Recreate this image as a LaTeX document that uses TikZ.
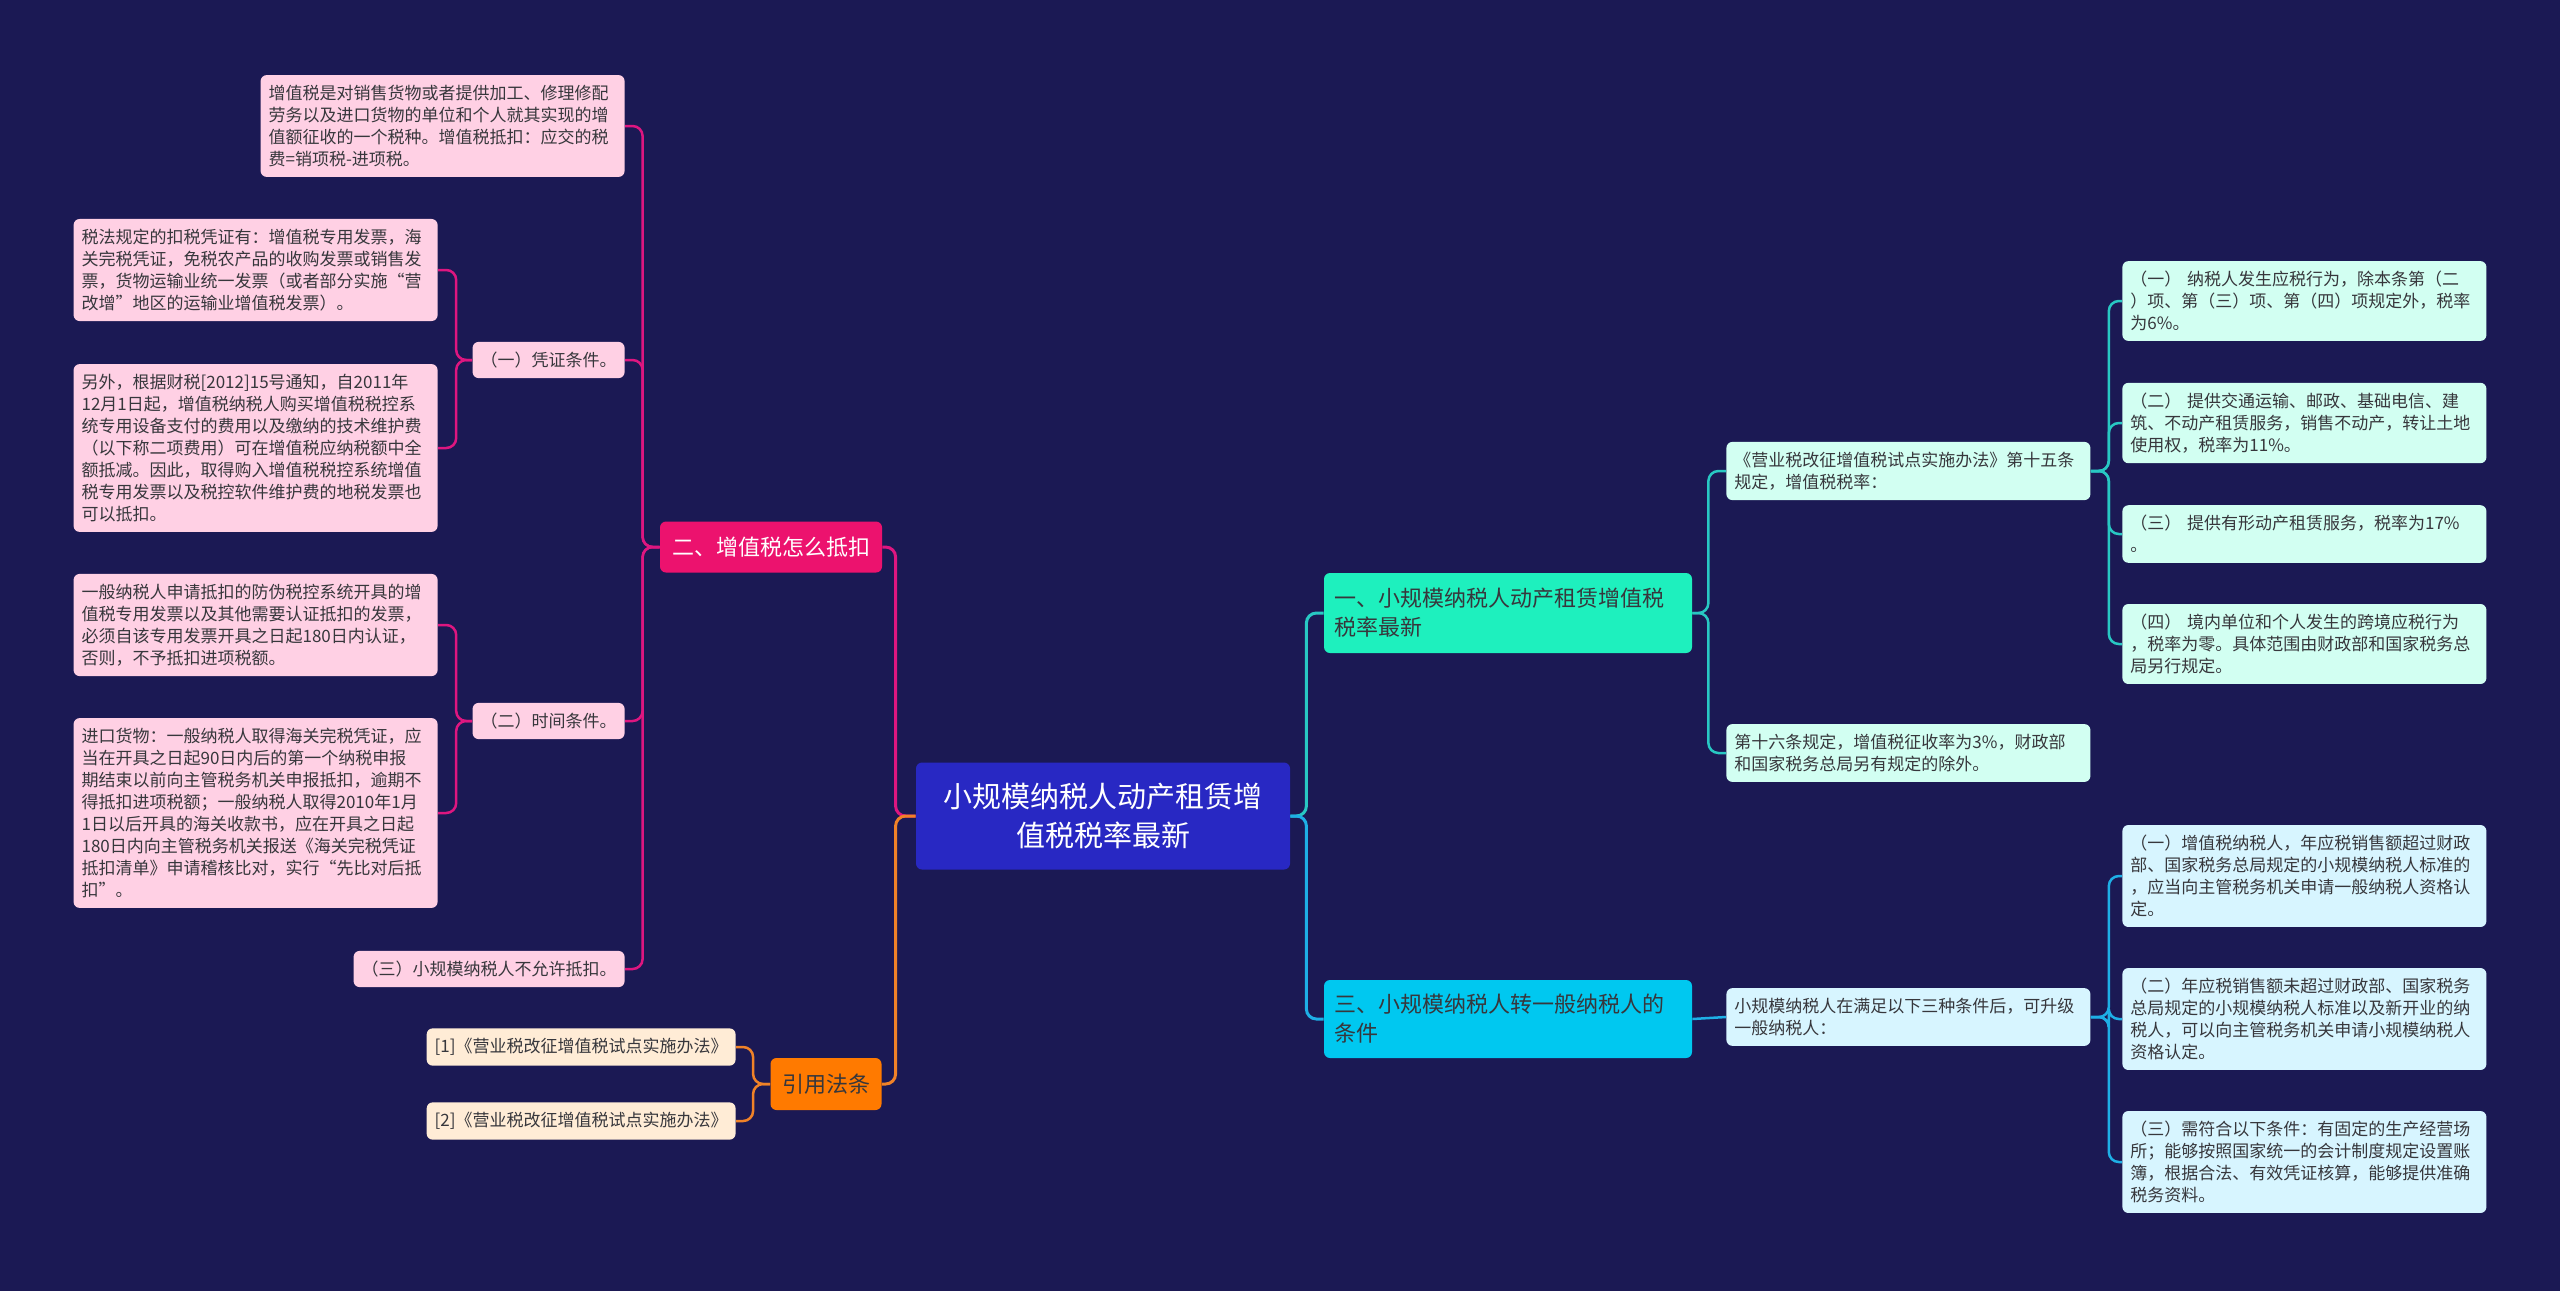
\documentclass[tikz,border=0pt]{standalone}
\usepackage{fontspec}
\setmainfont{Noto Sans CJK SC}
\usetikzlibrary{positioning}

\definecolor{bgnavy}{RGB}{27,25,84}
\definecolor{rootblue}{RGB}{40,40,195}
\definecolor{darktext}{RGB}{55,55,60}
\definecolor{pinkhead}{RGB}{236,18,110}
\definecolor{pinkleaf}{RGB}{255,208,228}
\definecolor{pinkline}{RGB}{222,22,128}
\definecolor{orangehead}{RGB}{255,122,0}
\definecolor{orangeleaf}{RGB}{255,236,214}
\definecolor{orangeline}{RGB}{240,130,40}
\definecolor{minthead}{RGB}{30,240,190}
\definecolor{mintleaf}{RGB}{210,255,242}
\definecolor{mintline}{RGB}{40,200,195}
\definecolor{cyanhead}{RGB}{0,200,240}
\definecolor{cyanleaf}{RGB}{215,245,255}
\definecolor{cyanline}{RGB}{30,175,230}

\tikzset{
  box/.style={rectangle, rounded corners=3pt, inner xsep=4pt, inner ysep=5pt, align=left,
    text=darktext, font=\fontsize{8.5}{11}\selectfont},
  pinkbox/.style={box, fill=pinkleaf},
  orangebox/.style={box, fill=orangeleaf},
  mintbox/.style={box, fill=mintleaf, text width=174pt},
  cyanbox/.style={box, fill=cyanleaf, text width=174pt},
  headbox/.style={rectangle, rounded corners=3pt, inner xsep=5pt, align=left,
    font=\fontsize{11}{14.5}\selectfont},
  link/.style={line width=1.25pt, rounded corners=5pt},
  mainlink/.style={line width=1.5pt, rounded corners=5pt}
}

\begin{document}
\begin{tikzpicture}[x=0.5pt, y=-0.5pt]
    \useasboundingbox (0,0) rectangle (2560,1291);
    \fill[bgnavy] (0,0) rectangle (2560,1291);

    % Nodes
    \node [rectangle, rounded corners=3pt, fill=rootblue, text=white, align=center,
      minimum width=187pt, minimum height=53.5pt, font=\fontsize{14.5}{19.5}\selectfont]
      (root) at (1103,816) {小规模纳税人动产租赁增\\值税税率最新};

    \node [headbox, fill=minthead, text=darktext, minimum width=184pt, minimum height=40pt, text width=174pt]
      (rate) at (1508,613) {一、小规模纳税人动产租赁增值税\\税率最新};
    \node [headbox, fill=cyanhead, text=darktext, minimum width=184pt, minimum height=39pt, text width=174pt]
      (upgrade) at (1508,1019) {三、小规模纳税人转一般纳税人的\\条件};
    \node [headbox, fill=pinkhead, text=white, minimum width=111pt, minimum height=25.5pt, align=center]
      (deduct) at (771,547) {二、增值税怎么抵扣};
    \node [headbox, fill=orangehead, text=darktext, minimum width=55.5pt, minimum height=26pt, align=center]
      (refs) at (826,1084) {引用法条};

    % right side, rates
    \node [mintbox, anchor=west] (art15) at (1726,471) {《营业税改征增值税试点实施办法》第十五条\\规定，增值税税率：};
    \node [mintbox, anchor=west] (art16) at (1726,753) {第十六条规定，增值税征收率为3\%，财政部\\和国家税务总局另有规定的除外。};
    \node [mintbox, anchor=west] (rateone) at (2122,301) {（一） 纳税人发生应税行为，除本条第（二\\）项、第（三）项、第（四）项规定外，税率\\为6\%。};
    \node [mintbox, anchor=west] (ratetwo) at (2122,423) {（二） 提供交通运输、邮政、基础电信、建\\筑、不动产租赁服务，销售不动产，转让土地\\使用权，税率为11\%。};
    \node [mintbox, anchor=west] (ratethree) at (2122,534) {（三） 提供有形动产租赁服务，税率为17\%\\。};
    \node [mintbox, anchor=west] (ratefour) at (2122,644) {（四） 境内单位和个人发生的跨境应税行为\\，税率为零。具体范围由财政部和国家税务总\\局另行规定。};

    % right side, upgrade
    \node [cyanbox, anchor=west] (cond) at (1726,1017) {小规模纳税人在满足以下三种条件后，可升级\\一般纳税人：};
    \node [cyanbox, anchor=west] (condone) at (2122,876) {（一）增值税纳税人，年应税销售额超过财政\\部、国家税务总局规定的小规模纳税人标准的\\，应当向主管税务机关申请一般纳税人资格认\\定。};
    \node [cyanbox, anchor=west] (condtwo) at (2122,1019) {（二）年应税销售额未超过财政部、国家税务\\总局规定的小规模纳税人标准以及新开业的纳\\税人，可以向主管税务机关申请小规模纳税人\\资格认定。};
    \node [cyanbox, anchor=west] (condthree) at (2122,1162) {（三）需符合以下条件：有固定的生产经营场\\所；能够按照国家统一的会计制度规定设置账\\簿，根据合法、有效凭证核算，能够提供准确\\税务资料。};

    % left side, deduction
    \node [pinkbox, anchor=east, text width=174pt] (vatdef) at (625,126) {增值税是对销售货物或者提供加工、修理修配\\劳务以及进口货物的单位和个人就其实现的增\\值额征收的一个税种。增值税抵扣：应交的税\\费=销项税-进项税。};
    \node [pinkbox, anchor=east] (voucher) at (625,360) {（一）凭证条件。};
    \node [pinkbox, anchor=east] (timing) at (625,721) {（二）时间条件。};
    \node [pinkbox, anchor=east] (small) at (625,969) {（三）小规模纳税人不允许抵扣。};
    \node [pinkbox, anchor=east, text width=174pt] (vouchera) at (438,270) {税法规定的扣税凭证有：增值税专用发票，海\\关完税凭证，免税农产品的收购发票或销售发\\票，货物运输业统一发票（或者部分实施“营\\改增”地区的运输业增值税发票）。};
    \node [pinkbox, anchor=east, text width=174pt] (voucherb) at (438,448) {另外，根据财税[2012]15号通知，自2011年\\12月1日起，增值税纳税人购买增值税税控系\\统专用设备支付的费用以及缴纳的技术维护费\\（以下称二项费用）可在增值税应纳税额中全\\额抵减。因此，取得购入增值税税控系统增值\\税专用发票以及税控软件维护费的地税发票也\\可以抵扣。};
    \node [pinkbox, anchor=east, text width=174pt] (timinga) at (438,625) {一般纳税人申请抵扣的防伪税控系统开具的增\\值税专用发票以及其他需要认证抵扣的发票，\\必须自该专用发票开具之日起180日内认证，\\否则，不予抵扣进项税额。};
    \node [pinkbox, anchor=east, text width=174pt] (timingb) at (438,813) {进口货物：一般纳税人取得海关完税凭证，应\\当在开具之日起90日内后的第一个纳税申报\\期结束以前向主管税务机关申报抵扣，逾期不\\得抵扣进项税额；一般纳税人取得2010年1月\\1日以后开具的海关收款书，应在开具之日起\\180日内向主管税务机关报送《海关完税凭证\\抵扣清单》申请稽核比对，实行“先比对后抵\\扣”。};

    % left side, references
    \node [orangebox, anchor=east] (refone) at (736,1047) {[1]《营业税改征增值税试点实施办法》};
    \node [orangebox, anchor=east] (reftwo) at (736,1121) {[2]《营业税改征增值税试点实施办法》};

    % Edges
    \draw [mainlink, mintline] (root.east) -- ++(16,0) |- (rate.west);
    \draw [mainlink, cyanline] (root.east) -- ++(16,0) |- (upgrade.west);
    \draw [mainlink, pinkline] (root.west) -- ++(-20,0) |- (deduct.east);
    \draw [mainlink, orangeline] (root.west) -- ++(-20,0) |- (refs.east);

    \draw [link, mintline] (rate.east) -- ++(16,0) |- (art15.west);
    \draw [link, mintline] (rate.east) -- ++(16,0) |- (art16.west);
    \draw [link, mintline] (art15.east) -- ++(18,0) |- (rateone.west);
    \draw [link, mintline] (art15.east) -- ++(18,0) |- (ratetwo.west);
    \draw [link, mintline] (art15.east) -- ++(18,0) |- (ratethree.west);
    \draw [link, mintline] (art15.east) -- ++(18,0) |- (ratefour.west);

    \draw [link, cyanline] (upgrade.east) -- (cond.west);
    \draw [link, cyanline] (cond.east) -- ++(18,0) |- (condone.west);
    \draw [link, cyanline] (cond.east) -- ++(18,0) |- (condtwo.west);
    \draw [link, cyanline] (cond.east) -- ++(18,0) |- (condthree.west);

    \draw [link, pinkline] (deduct.west) -- ++(-17,0) |- (vatdef.east);
    \draw [link, pinkline] (deduct.west) -- ++(-17,0) |- (voucher.east);
    \draw [link, pinkline] (deduct.west) -- ++(-17,0) |- (timing.east);
    \draw [link, pinkline] (deduct.west) -- ++(-17,0) |- (small.east);
    \draw [link, pinkline] (voucher.west) -- ++(-16,0) |- (vouchera.east);
    \draw [link, pinkline] (voucher.west) -- ++(-16,0) |- (voucherb.east);
    \draw [link, pinkline] (timing.west) -- ++(-16,0) |- (timinga.east);
    \draw [link, pinkline] (timing.west) -- ++(-16,0) |- (timingb.east);

    \draw [link, orangeline] (refs.west) -- ++(-17,0) |- (refone.east);
    \draw [link, orangeline] (refs.west) -- ++(-17,0) |- (reftwo.east);
\end{tikzpicture}
\end{document}
